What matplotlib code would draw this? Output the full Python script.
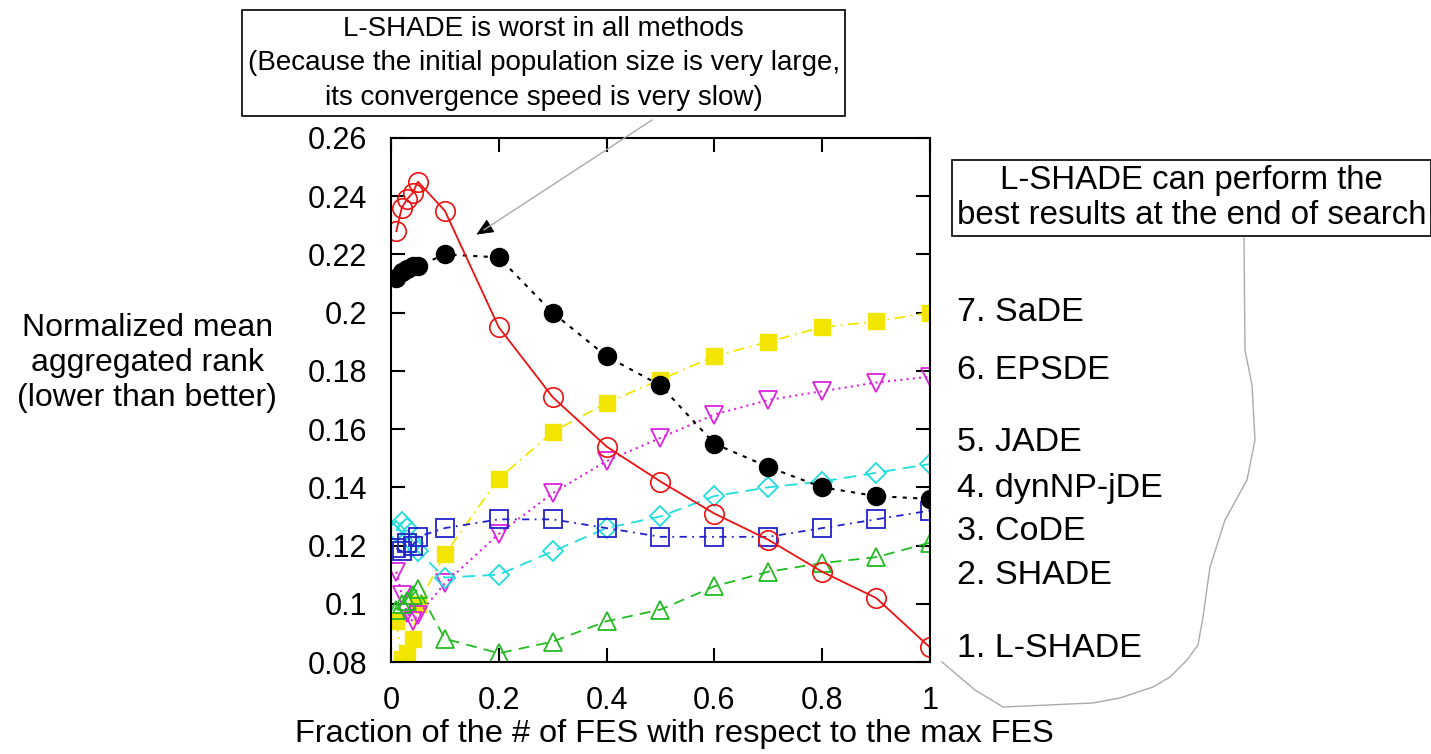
import numpy as np
import matplotlib
matplotlib.use('Agg')
import matplotlib.pyplot as plt
from matplotlib.lines import Line2D
from matplotlib.patches import FancyArrowPatch

plt.rcParams['font.family'] = ['Liberation Sans', 'DejaVu Sans']

# fraction of FES at which the rank was recorded
fes = [0.01, 0.02, 0.03, 0.04, 0.05, 0.1, 0.2, 0.3, 0.4, 0.5, 0.6, 0.7, 0.8, 0.9, 1.0]

sade = [0.094, 0.081, 0.083, 0.088, 0.100, 0.117, 0.143, 0.159, 0.169, 0.177, 0.185, 0.190, 0.195, 0.197, 0.200]
epsde = [0.111, 0.103, 0.097, 0.094, 0.096, 0.107, 0.124, 0.138, 0.149, 0.157, 0.165, 0.170, 0.173, 0.176, 0.178]
jade = [0.125, 0.128, 0.126, 0.121, 0.118, 0.109, 0.110, 0.118, 0.126, 0.130, 0.137, 0.140, 0.142, 0.145, 0.148]
dynnp = [0.212, 0.214, 0.215, 0.216, 0.216, 0.220, 0.219, 0.200, 0.185, 0.175, 0.155, 0.147, 0.140, 0.137, 0.136]
code = [0.119, 0.118, 0.121, 0.120, 0.123, 0.126, 0.129, 0.129, 0.126, 0.123, 0.123, 0.123, 0.126, 0.129, 0.132]
shade = [0.098, 0.100, 0.101, 0.103, 0.105, 0.088, 0.083, 0.087, 0.094, 0.098, 0.106, 0.111, 0.114, 0.116, 0.121]
lshade = [0.228, 0.236, 0.239, 0.241, 0.245, 0.235, 0.195, 0.171, 0.154, 0.142, 0.131, 0.122, 0.111, 0.102, 0.085]

labels = ['7. SaDE', '6. EPSDE', '5. JADE', '4. dynNP-jDE', '3. CoDE', '2. SHADE', '1. L-SHADE']
label_y = [0.200, 0.180, 0.1555, 0.1397, 0.1250, 0.1098, 0.0848]

yticks = [0.08, 0.1, 0.12, 0.14, 0.16, 0.18, 0.2, 0.22, 0.24, 0.26]
xticks = [0, 0.2, 0.4, 0.6, 0.8, 1]

W, H = 1431.0, 754.0

fig = plt.figure(figsize=(14.31, 7.54), dpi=100)
ax = fig.add_axes([0.2732, 0.122, 0.3767, 0.695])

ax.plot(fes, sade, color='#f2e600', ls=(0, (6, 3, 1, 3)), lw=1.3,
        marker='s', ms=12, mfc='#f2e600', mec='#f2e600')
ax.plot(fes, epsde, color='#dd22dd', ls=(0, (1, 2)), lw=1.5,
        marker='v', ms=13, mfc='none', mec='#dd22dd', mew=1.3)
ax.plot(fes, jade, color='#22dddd', ls=(0, (7, 4)), lw=1.3,
        marker='D', ms=10, mfc='none', mec='#22dddd', mew=1.3)
ax.plot(fes, code, color='#2222cc', ls=(0, (4, 3, 1, 3)), lw=1.3,
        marker='s', ms=13, mfc='none', mec='#2222cc', mew=1.3)
ax.plot(fes, shade, color='#22bb22', ls=(0, (6, 4)), lw=1.3,
        marker='^', ms=13, mfc='none', mec='#22bb22', mew=1.3)
ax.plot(fes, dynnp, color='black', ls=(0, (2, 3)), lw=1.5,
        marker='o', ms=13, mfc='black', mec='black')
ax.plot(fes, lshade, color='#ee1111', ls='-', lw=1.3,
        marker='o', ms=14, mfc='none', mec='#ee1111', mew=1.2)

ax.set_xlim(0, 1)
ax.set_ylim(0.08, 0.26)
ax.set_xticks(xticks)
ax.set_xticklabels(['0', '0.2', '0.4', '0.6', '0.8', '1'])
ax.set_yticks(yticks)
ax.set_yticklabels(['0.08', '0.1', '0.12', '0.14', '0.16', '0.18', '0.2', '0.22', '0.24', '0.26'])
ax.tick_params(direction='in', length=10, width=1.5, labelsize=22,
               top=True, right=True, pad=17)
for s in ax.spines.values():
    s.set_linewidth(1.5)

for lab, yv in zip(labels, label_y):
    ax.text(1.05, yv, lab, transform=ax.get_yaxis_transform(),
            fontsize=24.5, va='center', ha='left')

fig.text(0.103, 0.519, 'Normalized mean\naggregated rank\n(lower than better)',
         fontsize=23, ha='center', va='center', linespacing=1.22)
fig.text(0.4715, 0.026, 'Fraction of the # of FES with respect to the max FES',
         fontsize=23.4, ha='center', va='center')

# annotation boxes
fig.text(0.380, 0.916, 'L-SHADE is worst in all methods\n(Because the initial population size is very large,\nits convergence speed is very slow)',
         fontsize=20, ha='center', va='center', linespacing=1.42,
         bbox=dict(boxstyle='square,pad=0.2', fc='white', ec='black', lw=1.2))
fig.text(0.8325, 0.737, 'L-SHADE can perform the\nbest results at the end of search',
         fontsize=23.8, ha='center', va='center', linespacing=1.18,
         bbox=dict(boxstyle='square,pad=0.15', fc='white', ec='black', lw=1.2))

# arrow from top box to L-SHADE curve: grey shaft, small black head
tip = (474 / W, 1 - 236 / H)
fig.add_artist(Line2D([652 / W, 484 / W], [1 - 120 / H, 1 - 229.8 / H],
                      transform=fig.transFigure, color='#aaaaaa', lw=1.0))
fig.patches.append(FancyArrowPatch((488 / W, 1 - 227.4 / H), tip,
                                   transform=fig.transFigure,
                                   arrowstyle='-|>,head_length=0.5,head_width=0.22',
                                   mutation_scale=22, color='black', lw=0.6))

# freehand brace from right box down to the end of the curves
bx = [1244, 1245, 1252, 1255, 1247, 1225, 1210, 1203, 1198, 1187, 1170, 1153, 1120, 1093, 1003, 975, 942]
by = [238, 350, 385, 440, 480, 520, 567, 617, 645, 660, 677, 687, 698, 703, 707, 690, 662]
fig.add_artist(Line2D([v / W for v in bx], [1 - v / H for v in by],
                      transform=fig.transFigure, color='#aaaaaa', lw=1.0))

fig.savefig('out.png', dpi=100)
